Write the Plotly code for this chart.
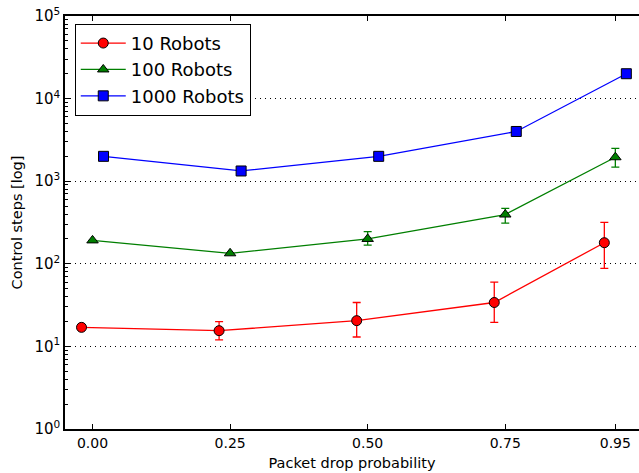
import plotly.graph_objects as go

# Data
x_10 = [-0.02, 0.23, 0.48, 0.73, 0.93]
y_10 = [17, 15.5, 20.5, 34, 180]
up_10 = [17, 20, 34, 60, 318]
lo_10 = [17, 12, 13, 19.5, 88]

x_100 = [0.0, 0.25, 0.50, 0.75, 0.95]
y_100 = [192, 134, 200, 395, 1950]
up_100 = [192, 134, 245, 470, 2500]
lo_100 = [192, 134, 168, 310, 1480]

x_1000 = [0.02, 0.27, 0.52, 0.77, 0.97]
y_1000 = [2000, 1330, 2000, 4000, 20000]

xtick_vals = [0.0, 0.25, 0.50, 0.75, 0.95]
xtick_text = ["0.00", "0.25", "0.50", "0.75", "0.95"]
ytick_vals = [1, 10, 100, 1000, 10000, 100000]
ytick_text = ["10<sup>0</sup>", "10<sup>1</sup>", "10<sup>2</sup>", "10<sup>3</sup>", "10<sup>4</sup>", "10<sup>5</sup>"]
minor_vals = [m * 10 ** d for d in range(0, 5) for m in range(2, 10)]

FONT = "DejaVu Sans"

def errs(y, up, lo):
    plus = [u - v for u, v in zip(up, y)]
    minus = [v - l for v, l in zip(y, lo)]
    return plus, minus

fig = go.Figure()

p10, m10 = errs(y_10, up_10, lo_10)
fig.add_trace(go.Scatter(
    x=x_10, y=y_10, mode="lines+markers", name="10 Robots",
    line=dict(color="#ff0000", width=1.3),
    marker=dict(symbol="circle", size=10, color="#ff0000", line=dict(color="black", width=1)),
    error_y=dict(type="data", symmetric=False, array=p10, arrayminus=m10,
                 color="#ff0000", thickness=1.3, width=4),
))

p100, m100 = errs(y_100, up_100, lo_100)
fig.add_trace(go.Scatter(
    x=x_100, y=y_100, mode="lines+markers", name="100 Robots",
    line=dict(color="#007f00", width=1.3),
    marker=dict(symbol="triangle-up", size=10, color="#007f00", line=dict(color="black", width=1)),
    error_y=dict(type="data", symmetric=False, array=p100, arrayminus=m100,
                 color="#007f00", thickness=1.3, width=4),
))

fig.add_trace(go.Scatter(
    x=x_1000, y=y_1000, mode="lines+markers", name="1000 Robots",
    line=dict(color="#0000ff", width=1.3),
    marker=dict(symbol="square", size=10, color="#0000ff", line=dict(color="black", width=1)),
))

fig.update_layout(
    width=639, height=473,
    margin=dict(l=65, r=0, t=16, b=44),
    paper_bgcolor="white", plot_bgcolor="white",
    font=dict(family=FONT, size=14, color="black"),
    showlegend=True,
    legend=dict(x=0.017, y=0.981, xanchor="left", yanchor="top",
                bgcolor="white", bordercolor="black", borderwidth=1,
                font=dict(family=FONT, size=18, color="black"),
                tracegroupgap=0, itemwidth=45),
)

fig.update_xaxes(
    range=[-0.05, 0.993],
    tickvals=xtick_vals, ticktext=xtick_text,
    ticks="inside", ticklen=5, tickcolor="black",
    showline=True, linecolor="black", linewidth=1.5, mirror="ticks",
    showgrid=False, zeroline=False,
    title=dict(text="Packet drop probability", font=dict(family=FONT, size=14.5), standoff=8),
    tickfont=dict(family=FONT, size=14),
)

fig.update_yaxes(
    type="log", range=[0, 5],
    tickvals=ytick_vals, ticktext=ytick_text,
    ticks="inside", ticklen=5, tickcolor="black",
    showline=True, linecolor="black", linewidth=1.5, mirror=False,
    showgrid=True, gridcolor="black", griddash="1px,4px", gridwidth=1,
    zeroline=False,
    minor=dict(tickvals=minor_vals, ticks="inside", ticklen=3, tickcolor="black", showgrid=False),
    title=dict(text="Control steps [log]", font=dict(family=FONT, size=14.5), standoff=8),
    tickfont=dict(family=FONT, size=15),
)

fig.write_html(
    "out.html",
    config={"displayModeBar": False},
    post_script="document.body.style.margin='0';document.body.style.overflow='hidden';",
)
